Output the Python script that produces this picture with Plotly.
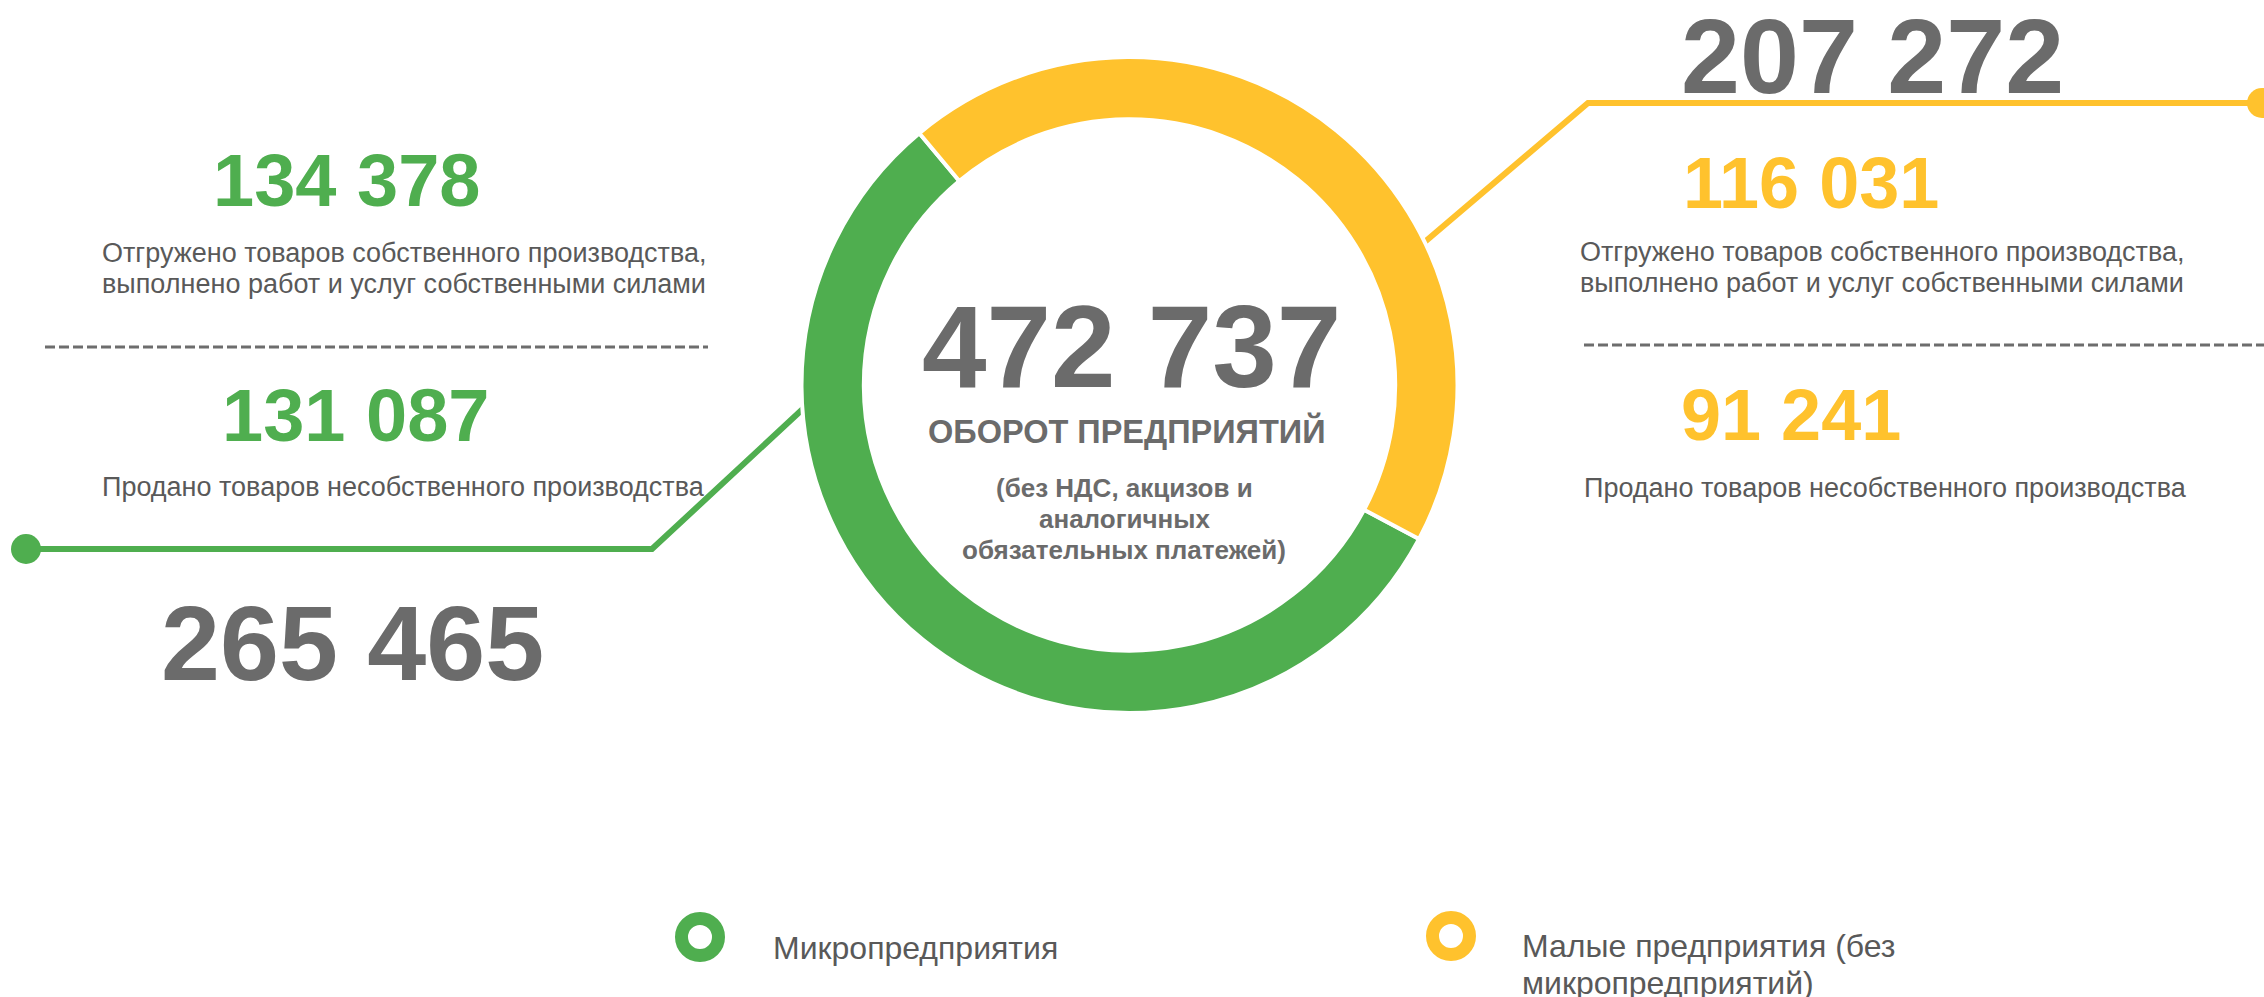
import plotly.graph_objects as go

# ---- data ----
categories = ["Микропредприятия", "Малые предприятия (без микропредприятий)"]
legend_lines = [["Микропредприятия"], ["Малые предприятия (без", "микропредприятий)"]]
turnover = [265465, 207272]
own_production = [134378, 116031]
resold = [131087, 91241]
center_title = "ОБОРОТ ПРЕДПРИЯТИЙ"
center_note = ["(без НДС, акцизов и", "аналогичных", "обязательных платежей)"]
own_label = ["Отгружено товаров собственного производства,",
             "выполнено работ и услуг собственными силами"]
resold_label = "Продано товаров несобственного производства"

colors = ["#4FAE4F", "#FFC22D"]
GRAY_NUM = "#6B6B6B"
GRAY_TXT = "#595959"
W, H = 2264, 997
FONT = "Liberation Sans, Arial, sans-serif"


def fmt(v):
    return f"{v:,}".replace(",", " ")


total = sum(turnover)

fig = go.Figure()

# hidden pixel-space axes for decorations
fig.add_trace(go.Scatter(x=[None], y=[None], mode="markers", showlegend=False, hoverinfo="skip"))

# donut
cx, cy, R = 1129.5, 385, 328
fig.add_trace(go.Pie(
    labels=categories, values=turnover, hole=0.81, sort=False,
    direction="clockwise", rotation=118,
    marker=dict(colors=colors, line=dict(color="white", width=4)),
    textinfo="none", showlegend=False, hoverinfo="label+value",
    domain=dict(x=[(cx - R) / W, (cx + R) / W],
                y=[(H - cy - R) / H, (H - cy + R) / H]),
))

ann = []


def txt(x, y, s, size, color, bold=False, xanchor="center"):
    ann.append(dict(x=x, y=y, xref="x", yref="y", text=(f"<b>{s}</b>" if bold else s),
                    showarrow=False, xanchor=xanchor, yanchor="middle",
                    font=dict(family=FONT, size=size, color=color)))


# center
txt(1131, 347, fmt(total), 116, GRAY_NUM, bold=True)
txt(1127, 431, center_title, 32.5, GRAY_NUM, bold=True)
for i, line in enumerate(center_note):
    txt(1124, 488 + i * 31, line, 26, GRAY_NUM, bold=True)

# left (micro)
txt(347, 180, fmt(own_production[0]), 74, colors[0], bold=True)
txt(404, 253, own_label[0], 27, GRAY_TXT)
txt(404, 284, own_label[1], 27, GRAY_TXT)
txt(356, 415, fmt(resold[0]), 74, colors[0], bold=True)
txt(403, 487, resold_label, 27, GRAY_TXT)
txt(352, 643, fmt(turnover[0]), 106, GRAY_NUM, bold=True)

# right (small)
txt(1679, 56, fmt(turnover[1]), 106, GRAY_NUM, bold=True, xanchor="left")
txt(1681, 183, fmt(own_production[1]), 72, colors[1], bold=True, xanchor="left")
txt(1882, 252, own_label[0], 27, GRAY_TXT)
txt(1882, 283, own_label[1], 27, GRAY_TXT)
txt(1679, 415, fmt(resold[1]), 72, colors[1], bold=True, xanchor="left")
txt(1885, 488, resold_label, 27, GRAY_TXT)

# legend text
txt(771, 948, legend_lines[0][0], 32, GRAY_TXT, xanchor="left")
txt(1520, 946, legend_lines[1][0], 32, GRAY_TXT, xanchor="left")
txt(1520, 983, legend_lines[1][1], 32, GRAY_TXT, xanchor="left")

shapes = []
# dashed separators
for x0, x1, y in [(45, 708, 347), (1584, 2264, 345)]:
    shapes.append(dict(type="line", xref="x", yref="y", x0=x0, x1=x1, y0=y, y1=y,
                       line=dict(color="#6D6D6D", width=3, dash="10px,4px"), layer="below"))
# connector lines
shapes.append(dict(type="path", xref="x", yref="y", path="M 26 549 L 652 549 L 806 406",
                   line=dict(color=colors[0], width=6), layer="below"))
shapes.append(dict(type="path", xref="x", yref="y", path="M 2262 103 L 1588 103 L 1420 246",
                   line=dict(color=colors[1], width=6), layer="below"))
# end dots
for (x, y, c) in [(26, 549, colors[0]), (2262, 103, colors[1])]:
    shapes.append(dict(type="circle", xref="x", yref="y", x0=x - 15, x1=x + 15, y0=y - 15, y1=y + 15,
                       fillcolor=c, line=dict(width=0), layer="below"))
# legend rings
for (x, y, c) in [(700, 937, colors[0]), (1451, 936, colors[1])]:
    r = 18.5
    shapes.append(dict(type="circle", xref="x", yref="y", x0=x - r, x1=x + r, y0=y - r, y1=y + r,
                       fillcolor="white", line=dict(color=c, width=13)))

fig.update_layout(
    width=W, height=H, margin=dict(l=0, r=0, t=0, b=0),
    paper_bgcolor="white", plot_bgcolor="white",
    xaxis=dict(range=[0, W], visible=False, fixedrange=True, domain=[0, 1]),
    yaxis=dict(range=[H, 0], visible=False, fixedrange=True, domain=[0, 1]),
    annotations=ann, shapes=shapes, showlegend=False,
)

fig.write_html("out.html")
